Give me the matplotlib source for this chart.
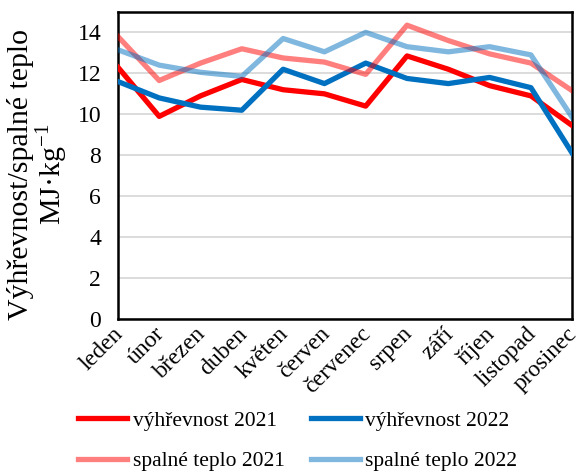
import matplotlib.pyplot as plt
from matplotlib.transforms import ScaledTranslation

plt.rcParams['font.family'] = ['Liberation Serif', 'DejaVu Serif']

months = ["leden", "únor", "březen", "duben", "květen", "červen", "červenec",
          "srpen", "září", "říjen", "listopad", "prosinec"]
vyh_2021 = [12.3, 9.9, 10.9, 11.7, 11.2, 11.0, 10.4, 12.85, 12.2, 11.4, 10.9, 9.45]
vyh_2022 = [11.6, 10.8, 10.35, 10.2, 12.2, 11.5, 12.5, 11.75, 11.5, 11.8, 11.3, 8.1]
spal_2021 = [13.8, 11.65, 12.5, 13.2, 12.75, 12.55, 11.95, 14.35, 13.6, 12.95, 12.5, 11.15]
spal_2022 = [13.15, 12.4, 12.05, 11.85, 13.7, 13.05, 14.0, 13.3, 13.05, 13.3, 12.9, 9.85]

fig = plt.figure(figsize=(5.78, 4.75), dpi=100)
ax = fig.add_axes([0.204, 0.328, 0.786, 0.647])

x = range(len(months))
l1, = ax.plot(x, vyh_2021, color="#FF0000", lw=3.8, label="výhřevnost 2021", zorder=3)
l2, = ax.plot(x, vyh_2022, color="#0070C0", lw=3.8, label="výhřevnost 2022", zorder=3)
l3, = ax.plot(x, spal_2021, color="#FF0000", alpha=0.5, lw=3.8, label="spalné teplo 2021", zorder=3)
l4, = ax.plot(x, spal_2022, color="#0070C0", alpha=0.5, lw=3.8, label="spalné teplo 2022", zorder=3)

ax.set_xlim(0, len(months) - 1)
ax.set_ylim(0, 15)
ax.set_yticks(range(0, 15, 2))
ax.yaxis.grid(True, color="#D9D9D9", lw=1.3)
ax.set_axisbelow(True)
ax.set_xticks(list(x))
ax.set_xticklabels(months, rotation=45, ha="right", rotation_mode="anchor")
ax.tick_params(length=0, labelsize=17)
ax.tick_params(axis="x", pad=3)
ax.tick_params(axis="y", pad=12)
# nudge the slanted month labels a little left so "prosinec" stays inside
shift = ScaledTranslation(-4 / 72, 0, fig.dpi_scale_trans)
for lab in ax.get_xticklabels():
    lab.set_transform(lab.get_transform() + shift)
for s in ax.spines.values():
    s.set_linewidth(1.8)
ax.set_ylabel("Výhřevnost/spalné teplo\nMJ·kg$^{\\mathregular{-1}}$", fontsize=21.5, linespacing=0.97)
ax.yaxis.set_label_coords(-0.106, 0.47)

fig.legend([l1, l3, l2, l4], [l.get_label() for l in (l1, l3, l2, l4)],
           loc="center", bbox_to_anchor=(0.515, 0.072), ncol=2,
           frameon=False, fontsize=15.5, handlelength=2.3, columnspacing=1.2,
           handletextpad=0.25, labelspacing=0.95, borderpad=0)

fig.savefig("out.png", dpi=100)
